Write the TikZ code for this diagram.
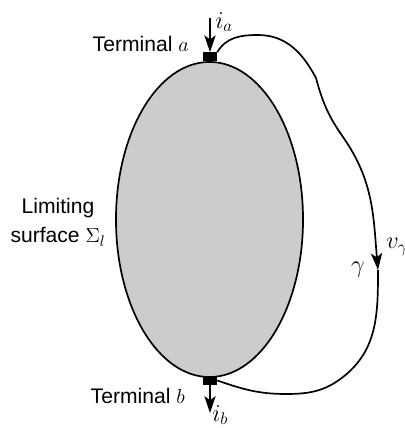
\documentclass[tikz,border=0pt]{standalone}
\usepackage{fontspec}
\setmainfont{Liberation Sans}
\usetikzlibrary{arrows.meta,shapes.geometric}

\begin{document}
\begin{tikzpicture}[x=0.025cm, y=0.025cm,
  surface/.style={draw, ellipse, fill=black!20, line width=1.2pt,
                  minimum width=4.675cm, minimum height=7.875cm, inner sep=0pt},
  terminal/.style={fill=black, minimum width=0.35cm, minimum height=0.225cm, inner sep=0pt},
  arrow/.style={-{Stealth[length=4.2mm, width=2.8mm, inset=1mm]}, line width=1.4pt},
  wire/.style={line width=1.2pt},
  label/.style={font=\fontsize{15}{16}\selectfont, inner sep=0pt},
  mlabel/.style={font=\fontsize{17}{18}\selectfont, inner sep=0pt},
]
\useasboundingbox (0,0) rectangle (405,428);

\node[surface] (surf) at (209.5,208.5) {};

% closed path gamma from terminal a to terminal b
\coordinate (ia) at (210,410);
\coordinate (ib) at (210,15);
\coordinate (g) at (378,158);
\node[terminal] (ta) at (210,371) {};
\node[terminal] (tb) at (210,47.5) {};

\draw[wire, -{Stealth[length=4.2mm, width=2.8mm, inset=1mm]}] (ta.north east)
  to[out=60,in=180] (258,393) to[out=0,in=118] (316,350)
  to[out=-75,in=125] (343,291) to[out=-55,in=95] (g);
\draw[wire] (g) to[out=-90,in=38] (343,51) to[out=218,in=0] (286,34)
  to[out=180,in=-19] (tb.east);
\node[terminal] at (ta) {};
\node[terminal] at (tb) {};

\draw[arrow] (ia) -- (ta.north);
\draw[arrow] (tb.south) -- (ib);

\node[label, anchor=base east] (la) at (189,376) {Terminal $a$};
\node[label, anchor=base east] (lb) at (185,24) {Terminal $b$};
\node[label, align=center, font=\fontsize{15}{21}\selectfont] (ls) at (58,206)
  {Limiting\\surface $\Sigma_l$};
\node[mlabel, anchor=west] (lia) at (215,406) {$i_a$};
\node[mlabel, anchor=west] (lib) at (212,13) {$i_b$};
\node[mlabel, anchor=west] (lv) at (386,181) {$v_\gamma$};
\node[mlabel] (lg) at (358,158) {$\gamma$};
\end{tikzpicture}
\end{document}
